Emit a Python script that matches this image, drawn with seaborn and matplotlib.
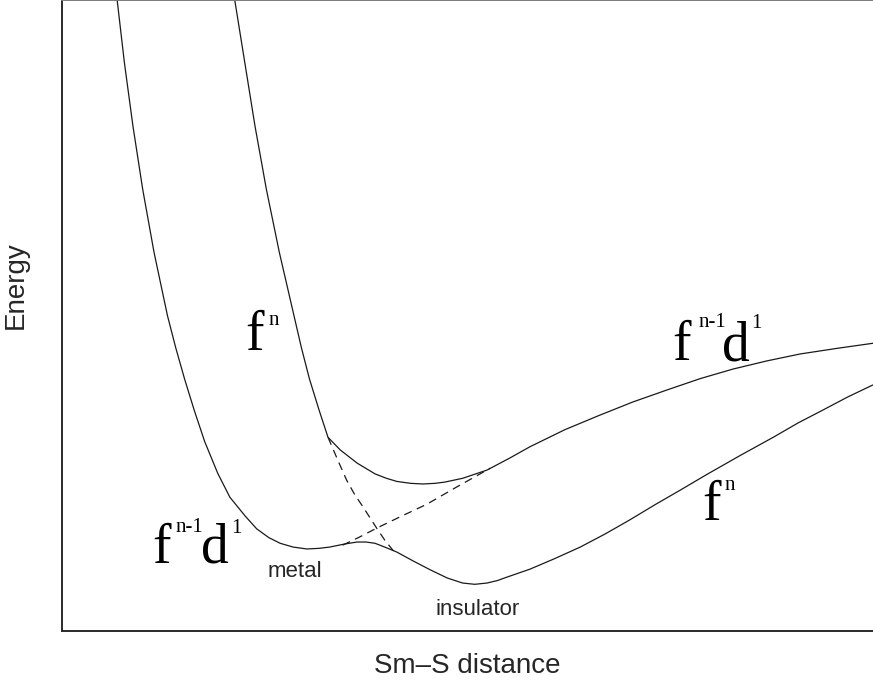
import matplotlib
matplotlib.use("Agg")
import matplotlib.pyplot as plt
import seaborn as sns
import pandas as pd

# Potential-energy curves (arbitrary units: distance 0-10, energy 0-10)
# Lower adiabatic branch: f^{n-1}d^1 on the left, f^n on the right
lower_x = [0.68, 0.77, 0.875, 0.995, 1.135, 1.30, 1.40, 1.51, 1.63, 1.76, 1.92,
           2.07, 2.26, 2.40, 2.55, 2.69, 2.85, 3.02, 3.17, 3.30, 3.49, 3.64, 3.75,
           3.86, 3.98, 4.13, 4.33, 4.54, 4.75, 4.94, 5.09, 5.24, 5.37, 5.50, 5.77,
           6.08, 6.39, 6.70, 7.00, 7.31, 7.62, 7.95, 8.36, 8.77, 9.08, 9.38, 9.69,
           10.0]
lower_e = [10.0, 9.00, 8.00, 7.00, 6.00, 5.00, 4.50, 4.00, 3.50, 3.00, 2.50,
           2.12, 1.82, 1.62, 1.48, 1.39, 1.33, 1.30, 1.31, 1.33, 1.38, 1.41, 1.41,
           1.39, 1.33, 1.25, 1.11, 0.97, 0.84, 0.76, 0.74, 0.76, 0.80, 0.86, 0.98,
           1.15, 1.33, 1.54, 1.76, 2.00, 2.23, 2.48, 2.78, 3.07, 3.30, 3.50, 3.71,
           3.90]

# Upper adiabatic branch: f^n on the left, f^{n-1}d^1 on the right
upper_x = [2.13, 2.255, 2.38, 2.52, 2.68, 2.86, 2.95, 3.05, 3.17, 3.28, 3.43,
           3.64, 3.86, 4.00, 4.13, 4.30, 4.45, 4.60, 4.72, 4.94, 5.24, 5.52, 5.77,
           6.20, 6.63, 7.04, 7.46, 7.87, 8.27, 8.69, 9.10, 9.56, 10.0]
upper_e = [10.0, 9.00, 8.00, 7.00, 6.00, 5.00, 4.50, 4.00, 3.50, 3.07, 2.87,
           2.66, 2.49, 2.42, 2.37, 2.34, 2.33, 2.34, 2.36, 2.42, 2.55, 2.74, 2.92,
           3.19, 3.42, 3.63, 3.82, 4.00, 4.15, 4.28, 4.39, 4.48, 4.56]

# Diabatic continuations through the crossing region (dashed)
dia_fn_x = [3.28, 3.40, 3.51, 3.61, 3.71, 3.80, 3.88, 3.98, 4.08, 4.13]
dia_fn_e = [3.07, 2.71, 2.39, 2.16, 1.97, 1.79, 1.63, 1.44, 1.28, 1.25]
dia_fd_x = [3.46, 3.67, 3.88, 4.17, 4.50, 4.85, 5.28]
dia_fd_e = [1.36, 1.49, 1.63, 1.81, 2.01, 2.27, 2.58]

sns.set_style("white")
plt.rcParams["font.family"] = ["Liberation Sans", "DejaVu Sans"]

fig = plt.figure(figsize=(8.73, 6.97), dpi=100)
ax = fig.add_axes([62 / 873, 66 / 697, 811 / 873, 631 / 697])

line_col = "#1a1a1a"
segments = [
    (lower_x, lower_e, "-"),
    (upper_x, upper_e, "-"),
    (dia_fn_x, dia_fn_e, (0, (6.5, 4.5))),
    (dia_fd_x, dia_fd_e, (0, (6.5, 4.5))),
]
for xs, es, ls in segments:
    df = pd.DataFrame({"distance": xs, "energy": es})
    sns.lineplot(data=df, x="distance", y="energy", sort=False, estimator=None,
                 color=line_col, linewidth=0.9, linestyle=ls, ax=ax)

ax.set_xlim(0, 10)
ax.set_ylim(0, 10)
ax.set_xticks([])
ax.set_yticks([])

for side in ("left", "bottom"):
    ax.spines[side].set_color("#2a2a2a")
    ax.spines[side].set_linewidth(1.4)
ax.spines["top"].set_color("#7a7a7a")
ax.spines["top"].set_linewidth(1.4)
ax.spines["right"].set_visible(False)

ax.set_xlabel("Sm\u2013S distance", fontsize=20, labelpad=16)
ax.set_ylabel("Energy", fontsize=20)
ax.yaxis.set_label_coords(-0.041, 0.548)

serif = ["Liberation Serif", "DejaVu Serif"]
big, small = 40, 15


def term(pieces):
    for x, y, s, size in pieces:
        ax.text(x, y, s, fontsize=size, family=serif, ha="left", va="baseline",
                color="black")


# f^n on the upper-left branch
term([(2.26, 4.45, "f", big), (2.55, 4.85, "n", small)])
# f^{n-1}d^1 on the lower-left branch
term([(1.11, 1.08, "f", big), (1.40, 1.57, "n-1", small),
      (1.71, 1.08, "d", big), (2.08, 1.55, "1", small)])
# f^{n-1}d^1 on the upper-right branch
term([(7.53, 4.29, "f", big), (7.85, 4.82, "n-1", small),
      (8.14, 4.29, "d", big), (8.50, 4.80, "1", small)])
# f^n on the lower-right branch
term([(7.89, 1.76, "f", big), (8.17, 2.23, "n", small)])

ax.text(2.87, 0.86, "metal", fontsize=16, ha="center", va="baseline")
ax.text(5.13, 0.25, "insulator", fontsize=16, ha="center", va="baseline")

fig.savefig("out.png", dpi=100)
